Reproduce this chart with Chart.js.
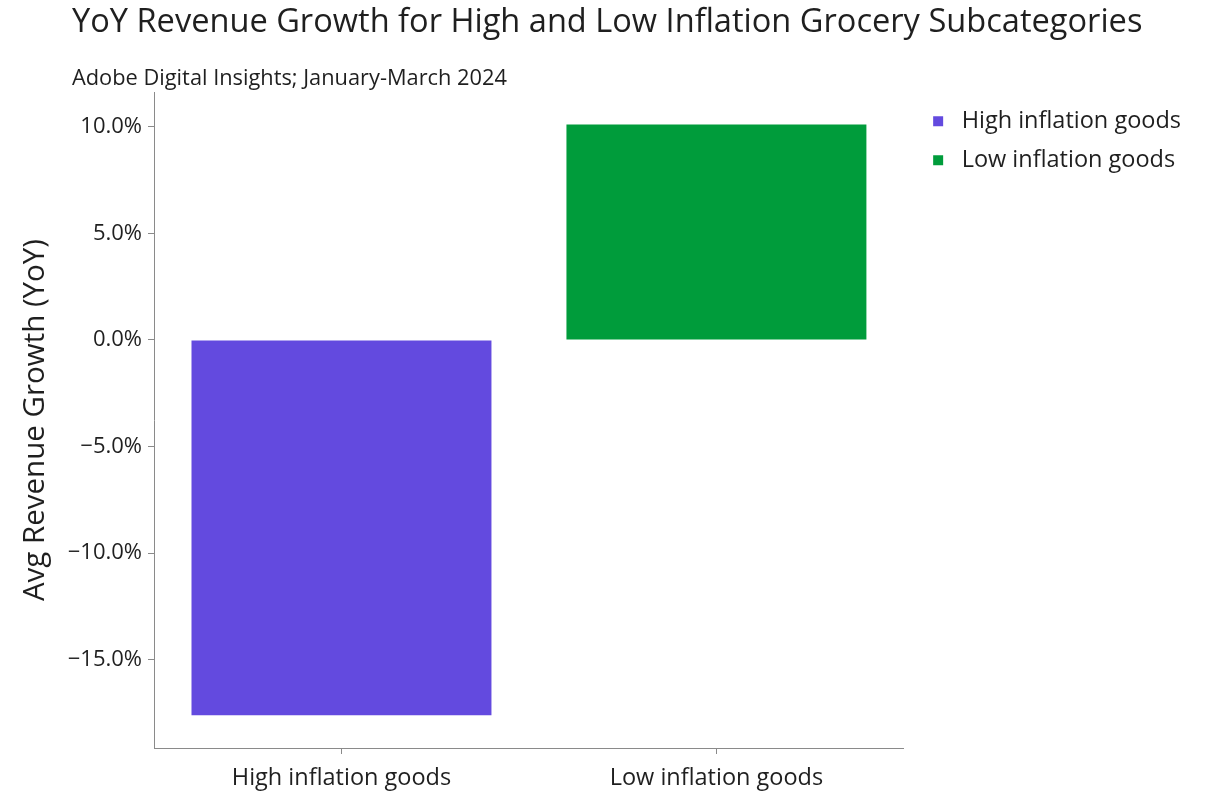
<!DOCTYPE html>
<html>
<head>
<meta charset="utf-8">
<script src="https://cdn.jsdelivr.net/npm/chart.js@4.4.1/dist/chart.umd.min.js"></script>
<style>
  html, body { margin: 0; padding: 0; background: #fff; }
  #wrap { position: relative; width: 1210px; height: 796px; }
  #chart { position: absolute; left: 0; top: 0; }
  .title { position: absolute; left: 72px; top: -3px; font-family: "Open Sans", sans-serif; font-size: 32.6px; color: #1f1f1f; white-space: nowrap; }
  .subtitle { position: absolute; left: 72px; top: 62px; font-family: "Open Sans", sans-serif; font-size: 21.8px; color: #1f1f1f; white-space: nowrap; }
</style>
</head>
<body>
<div id="wrap">
  <canvas id="chart" width="1210" height="796"></canvas>
  <div class="title">YoY Revenue Growth for High and Low Inflation Grocery Subcategories</div>
  <div class="subtitle">Adobe Digital Insights; January-March 2024</div>
</div>
<script>
// Categories and values (average YoY revenue growth, %)
const categories = ['High inflation goods', 'Low inflation goods'];
const highInflation = [-17.6, null];
const lowInflation = [null, 10.1];
const yTicks = [-15, -10, -5, 0, 5, 10];
const seriesNames = ['High inflation goods', 'Low inflation goods'];

const FONT = '"Open Sans", sans-serif';
const TEXT = '#1f1f1f';
const AXIS = '#8a8a8a';

const fmt = v => (v < 0 ? '\u2212' : '') + Math.abs(v).toFixed(1) + '%';

// Nudge the legend a little away from the plot area
const legendOffset = {
  id: 'legendOffset',
  afterLayout(chart) {
    if (chart.legend) {
      chart.legend.left += 7;
      chart.legend.top += 2;
    }
  }
};

new Chart(document.getElementById('chart'), {
  type: 'bar',
  data: {
    labels: categories,
    datasets: [
      { label: seriesNames[0], data: highInflation, backgroundColor: '#634ADF' },
      { label: seriesNames[1], data: lowInflation, backgroundColor: '#009C3B' }
    ]
  },
  plugins: [legendOffset],
  options: {
    responsive: false,
    animation: false,
    devicePixelRatio: 1,
    layout: { padding: { top: 92, right: 26, bottom: 0, left: 0 } },
    datasets: { bar: { grouped: false, barPercentage: 0.8, categoryPercentage: 1 } },
    plugins: {
      tooltip: { enabled: false },
      legend: {
        position: 'right',
        align: 'start',
        labels: {
          usePointStyle: true,
          pointStyle: 'rect',
          boxWidth: 24,
          boxHeight: 10,
          padding: 15.5,
          color: TEXT,
          font: { family: FONT, size: 23.5 }
        }
      }
    },
    scales: {
      x: {
        offset: true,
        grid: { display: true, drawOnChartArea: false, offset: false, tickLength: 6, tickColor: AXIS },
        border: { display: true, color: AXIS, width: 1 },
        ticks: { color: TEXT, padding: 10, font: { family: FONT, size: 23.5 } },
        afterFit: s => { s.height = 48; }
      },
      y: {
        min: -19.14,
        max: 11.63,
        grid: { display: true, drawOnChartArea: false, tickLength: 6, tickColor: AXIS },
        border: { display: true, color: AXIS, width: 1 },
        afterBuildTicks: s => { s.ticks = yTicks.map(v => ({ value: v })); },
        ticks: { color: TEXT, padding: 6, font: { family: FONT, size: 22 }, callback: v => fmt(v) },
        title: {
          display: true,
          text: 'Avg Revenue Growth (YoY)',
          color: TEXT,
          font: { family: FONT, size: 29.5 },
          padding: { top: 18, bottom: 0 }
        },
        afterFit: s => { s.width = 154; }
      }
    }
  }
});
</script>
</body>
</html>
